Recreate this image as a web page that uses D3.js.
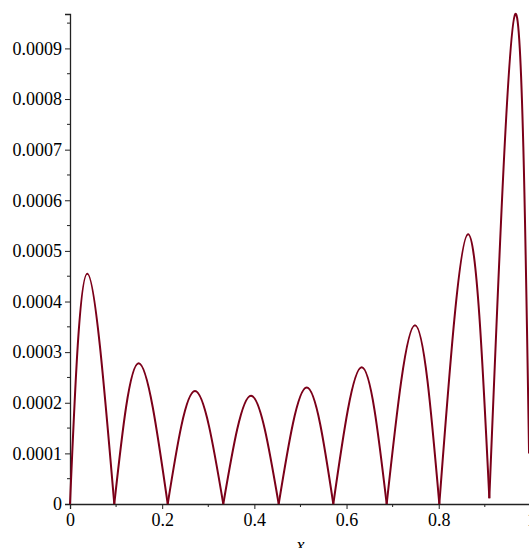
<!DOCTYPE html>
<html>
<head>
<meta charset="utf-8">
<script src="https://cdn.jsdelivr.net/npm/d3@7"></script>
<style>
  body { margin: 0; background: #fff; }
</style>
</head>
<body>
<div id="chart"></div>
<script>
// zeros (local minima) and peaks of the error curve
const zeroX = [0, 0.0961, 0.212, 0.3326, 0.4528, 0.5713, 0.6871, 0.8013, 0.9098, 0.996];
const zeroY = [0, 0, 0, 0, 0, 0, 0, 0, 0.0000113, 0.0001];
const peakX = [0.0375, 0.149, 0.2712, 0.3927, 0.5136, 0.6329, 0.7485, 0.8636, 0.9662];
const peakY = [0.000455, 0.000278, 0.000223, 0.000214, 0.00023, 0.00027, 0.000353, 0.000533, 0.000968];

const xTicks = [0, 0.2, 0.4, 0.6, 0.8, 1];
const xTickLabels = ['0', '0.2', '0.4', '0.6', '0.8', '1'];
const xMinor = [0.1, 0.3, 0.5, 0.7, 0.9];
const yTicks = [0, 0.0001, 0.0002, 0.0003, 0.0004, 0.0005, 0.0006, 0.0007, 0.0008, 0.0009];
const yTickLabels = ['0', '0.0001', '0.0002', '0.0003', '0.0004', '0.0005', '0.0006', '0.0007', '0.0008', '0.0009'];
const yMinor = [0.00005, 0.00015, 0.00025, 0.00035, 0.00045, 0.00055, 0.00065, 0.00075, 0.00085, 0.00095];

const width = 529, height = 548;
const margin = { left: 70, top: 14, bottom: 44 };
const serif = "'Liberation Serif', 'DejaVu Serif', serif";

const svg = d3.select('#chart').append('svg')
  .attr('width', width)
  .attr('height', height);

const x = d3.scaleLinear().domain([0, 1]).range([margin.left, 530.9]);
const y = d3.scaleLinear().domain([0, 0.000968]).range([height - margin.bottom, margin.top]);

// axes
const xAxis = svg.append('g')
  .attr('transform', 'translate(0,' + y(0) + ')')
  .call(d3.axisBottom(x).tickValues(xTicks).tickFormat((d, i) => xTickLabels[i]).tickSizeOuter(0).tickSize(5).tickPadding(4));
xAxis.selectAll('.tick line').attr('stroke', '#222');
xAxis.selectAll('.tick text')
  .style('font-family', serif)
  .style('font-size', '18px')
  .attr('fill', '#000');
xAxis.select('.domain').attr('stroke', '#222').attr('stroke-width', 1.3);

xAxis.selectAll('.minor').data(xMinor).enter().append('line')
  .attr('class', 'minor')
  .attr('x1', d => x(d)).attr('x2', d => x(d))
  .attr('y1', 0).attr('y2', 3)
  .attr('stroke', '#222');

const yAxis = svg.append('g')
  .attr('transform', 'translate(' + x(0) + ',0)')
  .call(d3.axisLeft(y).tickValues(yTicks).tickFormat((d, i) => yTickLabels[i]).tickSizeOuter(0).tickSize(5).tickPadding(3));
yAxis.selectAll('.tick line').attr('stroke', '#222');
yAxis.selectAll('.tick text')
  .style('font-family', serif)
  .style('font-size', '18px')
  .attr('fill', '#000');
yAxis.select('.domain').attr('stroke', '#222').attr('stroke-width', 1.3);

yAxis.selectAll('.minor').data(yMinor).enter().append('line')
  .attr('class', 'minor')
  .attr('x1', -3).attr('x2', 0)
  .attr('y1', d => y(d)).attr('y2', d => y(d))
  .attr('stroke', '#222');

// axis title
svg.append('text')
  .attr('x', x(0.5))
  .attr('y', 551)
  .attr('text-anchor', 'middle')
  .style('font-family', serif)
  .style('font-size', '18px')
  .style('font-style', 'italic')
  .text('x');

// curve: one arch per pair of neighbouring zeros
const line = d3.line()
  .x(d => x(d[0]))
  .y(d => y(d[1]))
  .curve(d3.curveNatural);

const humps = peakX.map((px, i) => [
  [zeroX[i], zeroY[i]],
  [px, peakY[i]],
  [zeroX[i + 1], zeroY[i + 1]]
]);

svg.append('g').selectAll('path').data(humps).enter().append('path')
  .attr('d', line)
  .attr('fill', 'none')
  .attr('stroke', '#7b0019')
  .attr('stroke-width', 2)
  .attr('stroke-linejoin', 'miter');
</script>
</body>
</html>
